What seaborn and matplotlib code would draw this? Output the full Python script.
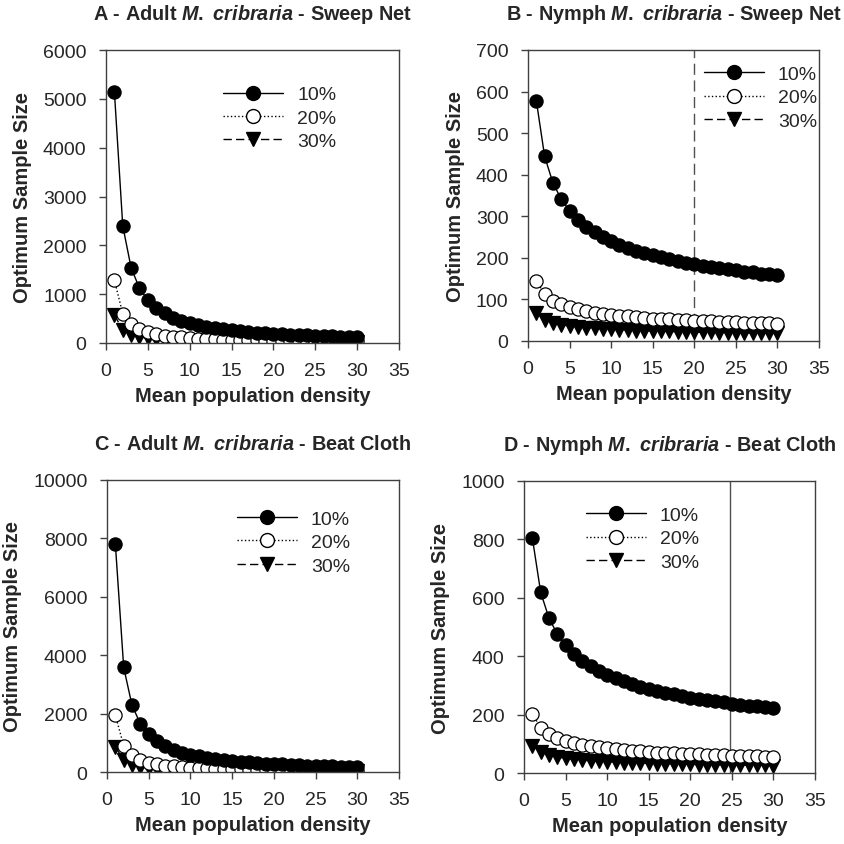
import matplotlib
matplotlib.use("Agg")
import matplotlib.pyplot as plt
import seaborn as sns
import pandas as pd
from matplotlib.lines import Line2D

# ---------------- data ----------------
density = list(range(1, 31))
levels = ["10%", "20%", "30%"]

a_10 = [5150, 2400, 1540, 1120, 877, 716, 606, 522, 458, 409, 368, 334, 306, 282, 262,
        244, 228, 215, 202, 191, 182, 173, 165, 157, 150, 144, 138, 133, 128, 123]
a_20 = [1290, 600, 385, 280, 220, 180, 152, 131, 115, 102, 92, 84, 77, 71, 66,
        61, 57, 54, 51, 48, 45, 43, 41, 39, 38, 36, 35, 33, 32, 31]
a_30 = [575, 268, 171, 125, 98, 80, 67, 58, 51, 45, 41, 37, 34, 31, 29,
        27, 25, 24, 22, 21, 20, 19, 18, 17.5, 17, 16, 15, 15, 14, 14]

b_10 = [578, 444, 380, 341, 313, 292, 275, 262, 250, 240, 232, 224, 217, 212, 206,
        201, 197, 192, 188, 184, 181, 178, 175, 172, 170, 167, 165, 162, 160, 158]
b_20 = [145, 112, 97, 88, 81, 76, 72, 68, 65, 63, 61, 59, 57, 55, 54,
        53, 52, 51, 50, 49, 48, 47, 46, 45.5, 45, 44, 44, 43, 43, 42]
b_30 = [67, 51, 44, 39, 36, 34, 32, 30, 29, 28, 27, 26, 25, 24.5, 24,
        23, 23, 22, 22, 21, 21, 20.5, 20, 20, 19.5, 19, 19, 19, 18.5, 18]

c_10 = [7800, 3580, 2280, 1650, 1287, 1048, 882, 759, 665, 592, 533, 484, 442, 407, 376,
        350, 327, 307, 289, 272, 258, 245, 233, 222, 212, 203, 195, 187, 180, 173]
c_20 = [1950, 895, 568, 412, 322, 262, 220, 190, 166, 148, 133, 121, 110, 102, 94,
        87, 82, 77, 72, 68, 65, 61, 58, 56, 53, 51, 49, 47, 45, 43]
c_30 = [870, 400, 254, 184, 144, 117, 98, 85, 74, 66, 59, 54, 49, 45, 42,
        39, 36, 34, 32, 30, 29, 27, 26, 25, 24, 23, 22, 21, 20, 19]

d_10 = [805, 619, 530, 476, 437, 408, 385, 366, 350, 336, 324, 314, 304, 296, 288,
        281, 275, 269, 264, 258, 254, 250, 246, 242, 238, 234, 231, 228, 225, 222]
d_20 = [202, 155, 133, 119, 110, 102, 97, 92, 88, 84, 81, 79, 76, 74, 72,
        70, 69, 67, 66, 65, 64, 62, 61, 60, 59, 59, 58, 57, 56, 56]
d_30 = [93, 72, 61, 55, 50, 47, 44, 42, 40, 39, 37, 36, 35, 34, 33,
        32, 32, 31, 30, 30, 29, 29, 28, 28, 27, 27, 27, 26, 26, 25]

titles = ["A - Adult $\\mathit{M.\\ cribraria}$ - Sweep Net",
          "B - Nymph $\\mathit{M.\\ cribraria}$ - Sweep Net",
          "C - Adult $\\mathit{M.\\ cribraria}$ - Beat Cloth",
          "D - Nymph $\\mathit{M.\\ cribraria}$ - Beat Cloth"]
y_max = [6000, 700, 10000, 1000]
y_step = [1000, 100, 2000, 200]
ref_lines = [None, 20, None, 24.8]
x_ticks = [0, 5, 10, 15, 20, 25, 30, 35]

panels = [(a_10, a_20, a_30), (b_10, b_20, b_30), (c_10, c_20, c_30), (d_10, d_20, d_30)]

# ---------------- style ----------------
sns.set_style("ticks")
plt.rcParams["font.family"] = ["Liberation Sans", "DejaVu Sans"]
plt.rcParams["mathtext.fontset"] = "custom"
plt.rcParams["mathtext.it"] = "Liberation Sans:italic:bold"
plt.rcParams["mathtext.rm"] = "Liberation Sans:bold"
plt.rcParams["mathtext.bf"] = "Liberation Sans:bold"

styles = {
    "10%": dict(marker="o", linestyle="-", mfc="black", mec="black"),
    "20%": dict(marker="o", linestyle=":", mfc="white", mec="black"),
    "30%": dict(marker="v", linestyle=(0, (6, 3)), mfc="black", mec="black"),
}

fig = plt.figure(figsize=(8.44, 8.45), dpi=100)
rects = [
    (0.1256, 0.5929, 0.3472, 0.3467),
    (0.6256, 0.5953, 0.3448, 0.3444),
    (0.1268, 0.0852, 0.3460, 0.3456),
    (0.6209, 0.0840, 0.3448, 0.3456),
]
legend_pos = [(0.40, 0.878), (0.605, 0.947), (0.445, 0.897), (0.213, 0.913)]

spine_col = "#404040"
FS = 14
for i, (rect, series) in enumerate(zip(rects, panels)):
    ax = fig.add_axes(rect)
    df = pd.DataFrame({
        "density": density * 3,
        "size": list(series[0]) + list(series[1]) + list(series[2]),
        "level": [levels[0]] * 30 + [levels[1]] * 30 + [levels[2]] * 30,
    })
    # draw in reverse order so 10% is on top
    for lvl in ["30%", "20%", "10%"]:
        st = styles[lvl]
        sub = df[df["level"] == lvl]
        sns.lineplot(data=sub, x="density", y="size", ax=ax, color="black",
                     linewidth=1.0, marker=st["marker"], markersize=9.5,
                     markerfacecolor=st["mfc"], markeredgecolor=st["mec"],
                     markeredgewidth=0.9, linestyle=st["linestyle"], legend=False)
    if ref_lines[i] is not None:
        ls = (0, (8, 4)) if i == 1 else "-"
        ax.axvline(ref_lines[i], color="#505050", lw=1.0, ls=ls, zorder=1)

    ax.set_xlim(0, 35)
    ax.set_ylim(0, y_max[i])
    ax.set_xticks(x_ticks)
    ax.set_yticks(list(range(0, y_max[i] + 1, y_step[i])))
    ax.tick_params(axis="both", direction="out", length=5, width=1,
                   labelsize=FS, color=spine_col, pad=9)
    for s in ax.spines.values():
        s.set_visible(True)
        s.set_color(spine_col)
        s.set_linewidth(1.0)
    ax.set_xlabel("Mean population density", fontsize=14.5, fontweight="bold", labelpad=5)
    ax.set_ylabel("Optimum Sample Size", fontsize=14.5, fontweight="bold", labelpad=8)
    ax.set_title(titles[i], fontsize=14.3, fontweight="bold", pad=22)

    handles = []
    for lvl in levels:
        st = styles[lvl]
        handles.append(Line2D([0], [0], color="black", lw=1.0, linestyle=st["linestyle"],
                              marker=st["marker"], markersize=10,
                              markerfacecolor=st["mfc"], markeredgecolor=st["mec"]))
    ax.legend(handles, levels, loc="upper left", bbox_to_anchor=legend_pos[i],
              frameon=False, fontsize=FS, handlelength=3.1, handletextpad=0.7,
              labelspacing=0.3, borderpad=0, borderaxespad=0)

fig.savefig("out.png", dpi=100)
